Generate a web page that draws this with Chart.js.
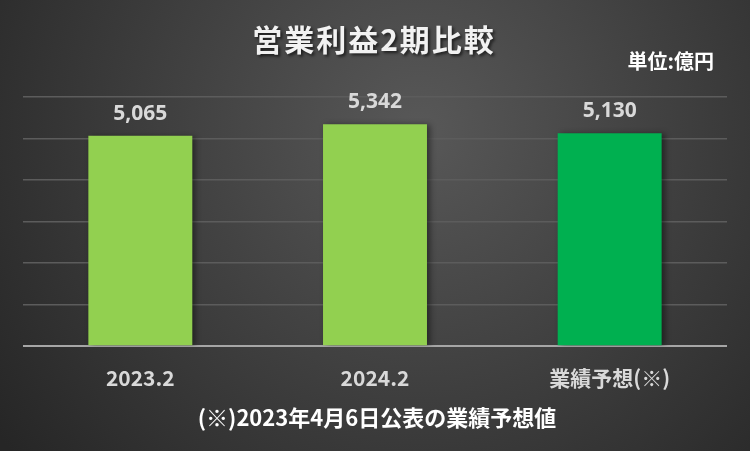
<!DOCTYPE html>
<html><head><meta charset="utf-8">
<script src="https://cdn.jsdelivr.net/npm/chart.js@4/dist/chart.umd.min.js"></script>
<style>html,body{margin:0;padding:0;background:#333;}#wrap{width:750px;height:451px;}</style>
</head><body><div id="wrap"><canvas id="c" width="750" height="451"></canvas></div>
<script>
const categories = ['2023.2', '2024.2', '業績予想(※)'];
const profit = [5065, 5342, 5130];
const barColors = ['#92D050', '#92D050', '#00B050'];
const titleText = '営業利益2期比較';
const unitText = '単位:億円';
const noteText = '(※)2023年4月6日公表の業績予想値';
const JP = '"Noto Sans CJK JP", "Noto Sans", sans-serif';

const bgPlugin = {
  id: 'bg',
  beforeDraw(chart) {
    const ctx = chart.ctx, w = chart.width, h = chart.height;
    ctx.save();
    const g = ctx.createRadialGradient(420, 130, 10, 420, 130, 520);
    g.addColorStop(0, '#575757');
    g.addColorStop(1, '#262626');
    ctx.fillStyle = g;
    ctx.fillRect(0, 0, w, h);
    ctx.restore();
  },
  beforeDatasetsDraw(chart) {
    chart.ctx.save();
    chart.ctx.shadowColor = 'rgba(0,0,0,0.45)';
    chart.ctx.shadowBlur = 6;
    chart.ctx.shadowOffsetX = 3;
    chart.ctx.shadowOffsetY = 1;
  },
  afterDatasetsDraw(chart) {
    chart.ctx.restore();
    const ctx = chart.ctx;
    const meta = chart.getDatasetMeta(0);
    ctx.save();
    ctx.font = 'bold 21px "Open Sans", sans-serif';
    ctx.fillStyle = '#d9d9d9';
    ctx.textAlign = 'center';
    ctx.textBaseline = 'alphabetic';
    meta.data.forEach((el, i) => {
      ctx.fillText(profit[i].toLocaleString('en-US'), el.x, el.y - 16);
    });
    ctx.restore();
  },
  afterDraw(chart) {
    const ctx = chart.ctx;
    ctx.save();
    ctx.textAlign = 'center';
    ctx.textBaseline = 'middle';
    ctx.shadowColor = 'rgba(0,0,0,0.6)';
    ctx.shadowBlur = 3;
    ctx.shadowOffsetX = 2;
    ctx.shadowOffsetY = 2;
    ctx.fillStyle = '#f2f2f2';
    ctx.font = 'bold 30px ' + JP;
    ctx.letterSpacing = '2px';
    ctx.fillText(titleText, 374, 40);
    ctx.letterSpacing = '0px';
    ctx.shadowColor = 'transparent';
    ctx.font = 'bold 20px ' + JP;
    ctx.fillStyle = '#ffffff';
    ctx.textAlign = 'right';
    ctx.fillText(unitText, 714, 61);
    ctx.textAlign = 'center';
    ctx.font = 'bold 22px ' + JP;
    ctx.fillText(noteText, 377, 418);
    ctx.restore();
  }
};

new Chart(document.getElementById('c'), {
  type: 'bar',
  data: {
    labels: categories,
    datasets: [{
      data: profit,
      backgroundColor: barColors,
      borderWidth: 0,
      categoryPercentage: 1,
      barPercentage: 0.443
    }]
  },
  options: {
    responsive: false,
    animation: false,
    devicePixelRatio: 1,
    layout: { padding: { top: 97, left: 23, right: 23, bottom: 40.5 } },
    plugins: { legend: { display: false }, tooltip: { enabled: false }, title: { display: false } },
    scales: {
      x: {
        grid: { display: false, drawTicks: false },
        border: { display: false },
        ticks: { color: '#d9d9d9', font: { family: JP, size: 21, weight: 'bold' }, padding: 19.5 }
      },
      y: {
        min: 0, max: 6000,
        ticks: { display: false, stepSize: 1000 },
        grid: {
          drawTicks: false,
          color: ctx => ctx.tick && ctx.tick.value === 0 ? '#a6a6a6' : '#5c5c5c',
          lineWidth: ctx => ctx.tick && ctx.tick.value === 0 ? 2 : 1.5
        },
        border: { display: false }
      }
    }
  },
  plugins: [bgPlugin]
});
</script></body></html>
